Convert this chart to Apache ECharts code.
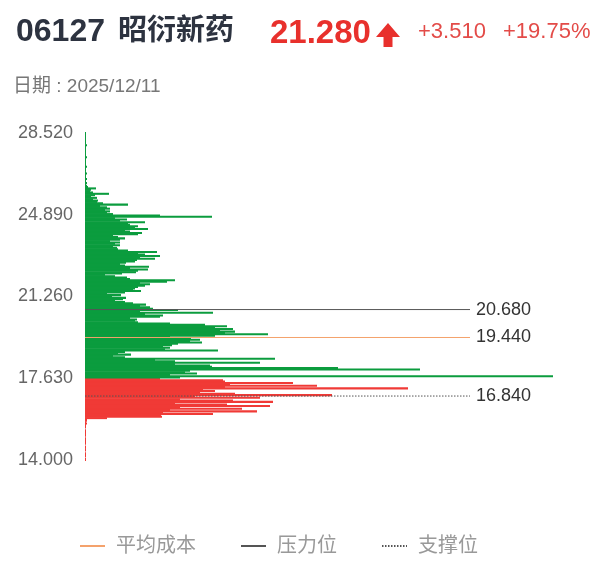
<!DOCTYPE html>
<html>
<head>
<meta charset="utf-8">
<script src="https://cdn.jsdelivr.net/npm/echarts@6/dist/echarts.min.js"></script>
<style>
html,body{margin:0;padding:0;background:#fff;}
#chart{width:595px;height:563px;}
</style>
</head>
<body>
<div id="chart"></div>
<script>
// ---- header texts ----
const stockCode = '06127';
const stockName = '昭衍新药';
const lastPrice = '21.280';
const changeAbs = '+3.510';
const changePct = '+19.75%';
const dateText = '日期 : 2025/12/11';

// ---- price levels (y categories) ----
const prices = [
 14.00,14.06,14.12,14.18,14.24,14.30,14.36,14.42,14.48,14.54,
 14.60,14.66,14.72,14.78,14.84,14.90,14.96,15.02,15.08,15.14,
 15.20,15.26,15.32,15.38,15.44,15.50,15.56,15.62,15.68,15.74,
 15.80,15.86,15.92,15.98,16.04,16.10,16.16,16.22,16.28,16.34,
 16.40,16.46,16.52,16.58,16.64,16.70,16.76,16.82,16.88,16.94,
 17.00,17.06,17.12,17.18,17.24,17.30,17.36,17.42,17.48,17.54,
 17.60,17.66,17.72,17.78,17.84,17.90,17.96,18.02,18.08,18.14,
 18.20,18.26,18.32,18.38,18.44,18.50,18.56,18.62,18.68,18.74,
 18.80,18.86,18.92,18.98,19.04,19.10,19.16,19.22,19.28,19.34,
 19.40,19.46,19.52,19.58,19.64,19.70,19.76,19.82,19.88,19.94,
 20.00,20.06,20.12,20.18,20.24,20.30,20.36,20.42,20.48,20.54,
 20.60,20.66,20.72,20.78,20.84,20.90,20.96,21.02,21.08,21.14,
 21.20,21.26,21.32,21.38,21.44,21.50,21.56,21.62,21.68,21.74,
 21.80,21.86,21.92,21.98,22.04,22.10,22.16,22.22,22.28,22.34,
 22.40,22.46,22.52,22.58,22.64,22.70,22.76,22.82,22.88,22.94,
 23.00,23.06,23.12,23.18,23.24,23.30,23.36,23.42,23.48,23.54,
 23.60,23.66,23.72,23.78,23.84,23.90,23.96,24.02,24.08,24.14,
 24.20,24.26,24.32,24.38,24.44,24.50,24.56,24.62,24.68,24.74,
 24.80,24.86,24.92,24.98,25.04,25.10,25.16,25.22,25.28,25.34,
 25.40,25.46,25.52,25.58,25.64,25.70,25.76,25.82,25.88,25.94,
 26.00,26.06,26.12,26.18,26.24,26.30,26.36,26.42,26.48,26.54,
 26.60,26.66,26.72,26.78,26.84,26.90,26.96,27.02,27.08,27.14,
 27.20,27.26,27.32,27.38,27.44,27.50,27.56,27.62,27.68,27.74,
 27.80,27.86,27.92,27.98,28.04,28.10,28.16,28.22,28.28,28.34,
 28.40,28.46,28.52
];

// ---- chip volume at each price level ----
const volumes = [
 1,1,0,1,1,1,0,1,1,1,
 1,0,1,1,1,1,1,0,1,1,
 1,1,1,0,1,1,1,2,1,2,
 2,22,77,76,128,78,172,85,157,95,
 185,142,90,188,148,95,175,110,247,150,
 115,130,118,323,140,232,145,208,140,138,
 75,95,468,85,112,100,105,335,253,127,
 125,90,175,90,70,190,40,28,46,33,
 40,133,80,85,78,87,93,117,105,115,
 106,85,130,183,140,150,135,148,130,142,
 120,85,53,50,52,45,75,78,60,128,
 55,93,68,65,55,61,48,40,30,38,
 41,27,36,22,40,56,48,50,53,60,
 65,55,82,90,45,42,30,20,37,51,
 53,63,45,64,40,35,41,50,52,70,
 55,75,60,53,72,43,33,32,28,35,
 30,35,25,35,40,33,28,53,57,45,
 40,63,50,53,45,43,60,35,42,30,
 127,75,28,22,25,20,25,22,15,43,
 18,12,13,8,12,6,10,24,8,5,
 6,11,3,2,1,2,1,1,2,1,
 1,1,2,1,1,1,1,2,1,1,
 1,1,1,1,2,1,1,1,1,1,
 1,1,1,2,1,1,1,1,1,1,
 1,1,1
];

const yTicks = [14.000, 17.630, 21.260, 24.890, 28.520];
const splitPrice = 17.65;      // levels below are drawn red
const avgCost = 19.44;
const pressure = 20.68;
const support = 16.84;
const lineNames = ['平均成本', '压力位', '支撑位'];

// ---- styles ----
const RED = '#f03a36';
const GREEN = '#0b9c3e';
const ORANGE = '#f4a26c';
const DARK = '#555555';
const FONT = '"Liberation Sans", "Noto Sans CJK SC", sans-serif';
const lineExtent = 385;

const chart = echarts.init(document.getElementById('chart'), null, {renderer: 'canvas'});

// bar rows: [volume, category index]
const rows = volumes.map((v, i) => [v, i]);

function renderRow(params, api) {
  const idx = api.value(1);
  const v = api.value(0);
  if (!(v > 0)) return null;
  const start = api.coord([0, idx]);
  const end = api.coord([v, idx]);
  const band = api.size([0, 1])[1];
  const pad = 0.35;
  return {
    type: 'rect',
    shape: {x: start[0], y: start[1] - band / 2 - pad, width: Math.max(end[0] - start[0], 0.8), height: band + 2 * pad},
    style: {fill: prices[idx] < splitPrice ? RED : GREEN}
  };
}

function levelLine(name, level, color, type) {
  return {
    name: name,
    type: 'line',
    xAxisIndex: 0,
    yAxisIndex: 1,
    symbol: 'none',
    silent: true,
    z: 5,
    data: [[0, level], [lineExtent, level]],
    itemStyle: {color: color},
    lineStyle: {color: color, width: 1, type: type},
    endLabel: {
      show: true,
      distance: 6,
      formatter: p => p.value[1].toFixed(3),
      color: '#333',
      fontSize: 18,
      fontFamily: FONT
    }
  };
}

const option = {
  animation: false,
  backgroundColor: '#fff',
  textStyle: {fontFamily: FONT},
  grid: {left: 85, right: 42, top: 133, bottom: 103, containLabel: false},
  xAxis: {
    type: 'value', min: 0, max: 'dataMax', show: false
  },
  yAxis: [
    {
      type: 'category', data: prices, boundaryGap: false, show: false
    },
    {
      type: 'value', min: yTicks[0], max: yTicks[yTicks.length - 1],
      position: 'left',
      axisLine: {show: false}, axisTick: {show: false}, splitLine: {show: false},
      axisLabel: {
        customValues: yTicks,
        formatter: v => v.toFixed(3),
        color: '#666', fontSize: 18, margin: 12, fontFamily: FONT
      }
    }
  ],
  legend: {
    data: lineNames,
    left: 74, top: 531,
    itemWidth: 25, itemHeight: 14, itemGap: 44,
    itemStyle: {opacity: 0},
    textStyle: {color: '#999', fontSize: 20, padding: [0, 0, 0, 6], fontFamily: FONT},
    selectedMode: false
  },
  series: [
    {
      type: 'custom',
      xAxisIndex: 0,
      yAxisIndex: 0,
      silent: true,
      clip: false,
      encode: {x: 0, y: 1},
      renderItem: renderRow,
      data: rows
    },
    levelLine(lineNames[0], avgCost, ORANGE, 'solid'),
    levelLine(lineNames[1], pressure, DARK, 'solid'),
    levelLine(lineNames[2], support, DARK, [1.5, 1.5])
  ],
  graphic: [
    {type: 'text', left: 16, top: 16, style: {text: stockCode, font: 'bold 32px ' + FONT, fill: '#2d3340'}},
    {type: 'text', left: 118, top: 17, style: {text: stockName, font: 'bold 29px ' + FONT, fill: '#2d3340'}},
    {type: 'text', left: 270, top: 17, style: {text: lastPrice, font: 'bold 33px ' + FONT, fill: '#e8302c'}},
    {type: 'polygon', shape: {points: [[376, 37], [388, 23], [400, 37], [392.5, 37], [392.5, 47], [383.5, 47], [383.5, 37]]}, style: {fill: '#e8302c'}},
    {type: 'text', left: 418, top: 21, style: {text: changeAbs, font: '22px ' + FONT, fill: '#e34b48'}},
    {type: 'text', left: 503, top: 21, style: {text: changePct, font: '22px ' + FONT, fill: '#e34b48'}},
    {type: 'text', left: 13, top: 77, style: {text: dateText, font: '19px ' + FONT, fill: '#777'}}
  ]
};

chart.setOption(option);
</script>
</body>
</html>
